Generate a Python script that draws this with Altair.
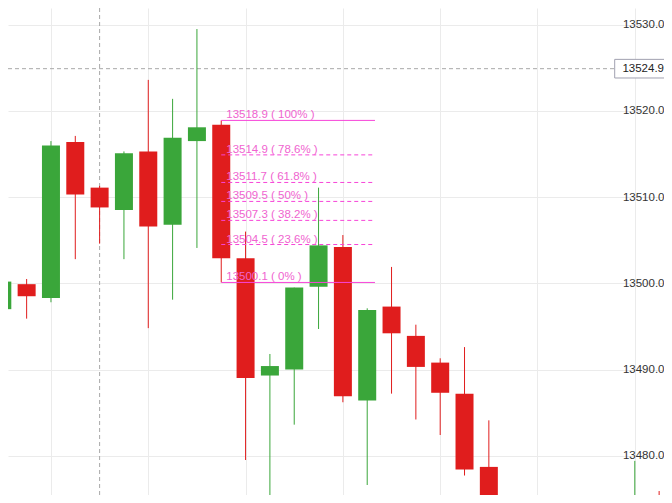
import altair as alt
import pandas as pd

# ---- data ----
idx = list(range(28))
opens = [13497.0, 13499.9, 13498.3, 13516.4, 13511.1, 13508.5, 13515.3, 13506.8,
         13516.5, 13518.4, 13502.9, 13489.3, 13490.0, 13499.6, 13504.2, 13486.4,
         13497.3, 13493.9, 13490.8, 13487.2, 13478.7, 13473.0, 13469.5, 13472.5,
         13471.5, 13473.8, 13472.5, 13475.0]
closes = [13500.2, 13498.5, 13516.0, 13510.3, 13508.8, 13515.1, 13506.6, 13516.9,
          13518.1, 13502.9, 13489.0, 13490.4, 13499.5, 13504.4, 13486.9, 13496.9,
          13494.2, 13490.3, 13487.3, 13478.4, 13473.0, 13470.5, 13472.0, 13471.0,
          13473.5, 13472.0, 13474.8, 13473.0]
highs = [13508.0, 13500.5, 13516.5, 13517.1, 13511.3, 13515.3, 13523.6, 13521.4,
         13529.5, 13518.9, 13506.0, 13491.8, 13499.5, 13511.1, 13505.6, 13497.1,
         13501.9, 13495.2, 13491.3, 13492.6, 13484.1, 13474.0, 13473.5, 13473.8,
         13475.0, 13475.0, 13479.4, 13475.9]
lows = [13496.3, 13495.9, 13497.8, 13502.8, 13504.6, 13502.8, 13494.8, 13498.1,
        13504.1, 13500.1, 13479.5, 13474.0, 13483.6, 13494.7, 13486.2, 13476.6,
        13487.2, 13484.2, 13482.4, 13477.7, 13471.5, 13469.0, 13468.0, 13470.0,
        13470.5, 13471.0, 13471.5, 13472.0]

fib_values = [13518.9, 13514.9, 13511.7, 13509.5, 13507.3, 13504.5, 13500.1]
fib_pcts = ["100%", "78.6%", "61.8%", "50%", "38.2%", "23.6%", "0%"]
fib_dashed = [False, True, True, True, True, True, False]
fib_start = 9
fib_end = 15.32

cross_idx = 4
cross_price = 13524.9

y_ticks = [13480, 13490, 13500, 13510, 13520, 13530]
x_grid = [2, 6, 10, 14, 18, 22, 26]

# ---- styles ----
RED = "#e01d1d"
GREEN = "#3aa63a"
FIB_LINE = "#f744d8"
FIB_TEXT = "#f064d0"
GRID = "#ebebeb"
FONT = "Liberation Sans"

W, H = 656, 487
xs = alt.Scale(domain=[0.234, 27.2], nice=False, zero=False)
ys = alt.Scale(domain=[13475.44, 13531.94], nice=False, zero=False)

XA = alt.Axis(values=x_grid, grid=True, gridColor=GRID, labels=False,
              ticks=False, domain=False, title=None)
YA = alt.Axis(orient="right", values=y_ticks, format=".1f", grid=True,
              gridColor=GRID, ticks=False, tickSize=0, domain=False,
              labelAlign="right", labelPadding=0, labelFont=FONT,
              labelFontSize=11.5, labelColor="#333333", title=None)

candles = pd.DataFrame({"i": idx, "open": opens, "close": closes,
                        "high": highs, "low": lows})
candles["color"] = [GREEN if c >= o else RED for o, c in zip(opens, closes)]
candles["x0"] = candles["i"] - 0.37
candles["x1"] = candles["i"] + 0.37

fib = pd.DataFrame({"v": fib_values, "pct": fib_pcts, "dashed": fib_dashed})
fib["label"] = [f"{v:.1f} ( {p} )" for v, p in zip(fib_values, fib_pcts)]
fib["x0"] = fib_start
fib["x1"] = fib_end

base = alt.Chart(candles)

vcross = alt.Chart(pd.DataFrame({"i": [cross_idx]})).mark_rule(
    stroke="#a8a8a8", strokeDash=[4, 3], strokeWidth=1, clip=True
).encode(
    x=alt.X("i:Q", scale=xs, axis=XA),
    y=alt.value(0), y2=alt.value(H),
)

hcross = alt.Chart(pd.DataFrame({"p": [cross_price]})).mark_rule(
    stroke="#a8a8a8", strokeDash=[4, 3], strokeWidth=1, clip=True
).encode(
    y=alt.Y("p:Q", scale=ys, axis=YA),
    x=alt.value(0), x2=alt.value(606.7),
)

wicks = base.mark_rule(strokeWidth=1, clip=True).encode(
    x=alt.X("i:Q", scale=xs, axis=XA),
    y=alt.Y("low:Q", scale=ys, axis=YA),
    y2="high:Q",
    color=alt.Color("color:N", scale=None, legend=None),
)

bodies = base.mark_rect(clip=True).encode(
    x=alt.X("x0:Q", scale=xs, axis=XA),
    x2="x1:Q",
    y=alt.Y("open:Q", scale=ys, axis=YA),
    y2="close:Q",
    color=alt.Color("color:N", scale=None, legend=None),
)

fib_solid = alt.Chart(fib).transform_filter("!datum.dashed").mark_rule(
    stroke=FIB_LINE, strokeWidth=1, clip=True
).encode(
    x=alt.X("x0:Q", scale=xs, axis=XA), x2="x1:Q",
    y=alt.Y("v:Q", scale=ys, axis=YA),
)
fib_dash = alt.Chart(fib).transform_filter("datum.dashed").mark_rule(
    stroke=FIB_LINE, strokeWidth=1, strokeDash=[4, 3], clip=True
).encode(
    x=alt.X("x0:Q", scale=xs, axis=XA), x2="x1:Q",
    y=alt.Y("v:Q", scale=ys, axis=YA),
)
fib_text = alt.Chart(fib).mark_text(
    align="left", baseline="alphabetic", dx=5, dy=-2, font=FONT,
    fontSize=11.5, color=FIB_TEXT
).encode(
    x=alt.X("x0:Q", scale=xs, axis=XA),
    y=alt.Y("v:Q", scale=ys, axis=YA),
    text="label:N",
)

box_df = pd.DataFrame({"p": [cross_price]})
box_df["top"] = box_df["p"] + 1.08
box_df["bot"] = box_df["p"] - 1.08
box_df["label"] = [f"{cross_price:.1f}"]
box = alt.Chart(box_df).mark_rect(
    fill="white", stroke="#a0a0b0", strokeWidth=1, clip=True
).encode(
    x=alt.value(606.7), x2=alt.value(W + 10),
    y=alt.Y("top:Q", scale=ys, axis=YA), y2="bot:Q",
)
box_text = alt.Chart(box_df).mark_text(
    align="right", baseline="middle", font=FONT, fontSize=11.5, color="#222222"
).encode(
    x=alt.value(W),
    y=alt.Y("p:Q", scale=ys, axis=YA),
    text="label:N",
)

chart = alt.layer(
    vcross, hcross, wicks, bodies, fib_solid, fib_dash, fib_text, box, box_text
).properties(
    width=W, height=H, padding=0, background="white"
).configure_view(stroke=None)

chart.save("out.html", embed_options={"renderer": "svg", "actions": False})
